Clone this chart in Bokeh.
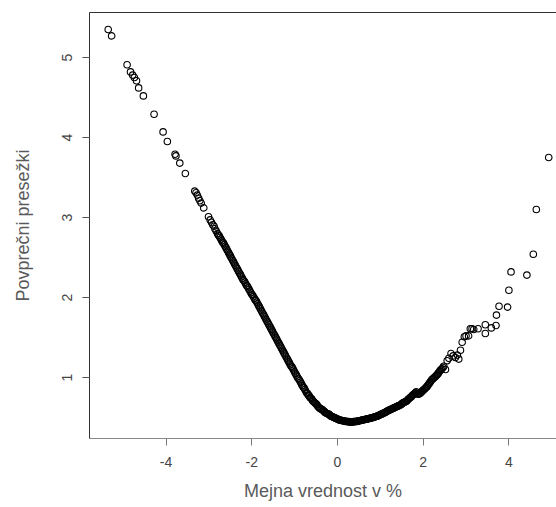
from bokeh.plotting import figure
from bokeh.models import Range1d, LinearAxis, FixedTicker, ColumnDataSource
from bokeh.embed import file_html
from bokeh.resources import INLINE

# Sparse left tail: threshold (Mejna vrednost v %) and mean excess (Povprečni presežki)
left_threshold = [
    -5.35, -5.27, -4.91, -4.83, -4.78, -4.74, -4.69, -4.64, -4.53, -4.28,
    -4.07, -3.97, -3.79, -3.77, -3.68, -3.55, -3.33, -3.30, -3.27, -3.24,
    -3.21, -3.18, -3.12, -3.01, -2.97, -2.94, -2.91, -2.88, -2.86, -2.83,
]
left_excess = [
    5.35, 5.27, 4.91, 4.82, 4.78, 4.75, 4.71, 4.62, 4.52, 4.29,
    4.07, 3.95, 3.79, 3.77, 3.68, 3.55, 3.33, 3.31, 3.28, 3.24,
    3.21, 3.18, 3.12, 3.01, 2.97, 2.94, 2.91, 2.89, 2.86, 2.83,
]

# Dense middle band
mid_threshold = [
    -2.80, -2.78, -2.76, -2.74, -2.72, -2.70, -2.68, -2.66, -2.64, -2.62,
    -2.60, -2.58, -2.56, -2.54, -2.52, -2.50, -2.48, -2.46, -2.44, -2.42,
    -2.40, -2.38, -2.36, -2.34, -2.32, -2.30, -2.28, -2.26, -2.24, -2.22,
    -2.20, -2.18, -2.16, -2.14, -2.12, -2.10, -2.08, -2.06, -2.04, -2.02,
    -2.00, -1.98, -1.96, -1.94, -1.92, -1.90, -1.88, -1.86, -1.84, -1.82,
    -1.80, -1.78, -1.76, -1.74, -1.72, -1.70, -1.68, -1.66, -1.64, -1.62,
    -1.60, -1.58, -1.56, -1.54, -1.52, -1.50, -1.48, -1.46, -1.44, -1.42,
    -1.40, -1.38, -1.36, -1.34, -1.32, -1.30, -1.28, -1.26, -1.24, -1.22,
    -1.20, -1.18, -1.16, -1.14, -1.12, -1.10, -1.08, -1.06, -1.04, -1.02,
    -1.00, -0.98, -0.96, -0.94, -0.92, -0.90, -0.88, -0.86, -0.84, -0.82,
    -0.80, -0.78, -0.76, -0.74, -0.72, -0.70, -0.68, -0.66, -0.64, -0.62,
    -0.60, -0.58, -0.56, -0.54, -0.52, -0.50, -0.48, -0.46, -0.44, -0.42,
    -0.40, -0.38, -0.36, -0.34, -0.32, -0.30, -0.28, -0.26, -0.24, -0.22,
    -0.20, -0.18, -0.16, -0.14, -0.12, -0.10, -0.08, -0.06, -0.04, -0.02,
    0.00, 0.02, 0.04, 0.06, 0.08, 0.10, 0.12, 0.14, 0.16, 0.18,
    0.20, 0.22, 0.24, 0.26, 0.28, 0.30, 0.32, 0.34, 0.36, 0.38,
    0.40, 0.42, 0.44, 0.46, 0.48, 0.50, 0.52, 0.54, 0.56, 0.58,
    0.60, 0.62, 0.64, 0.66, 0.68, 0.70, 0.72, 0.74, 0.76, 0.78,
    0.80, 0.82, 0.84, 0.86, 0.88, 0.90, 0.92, 0.94, 0.96, 0.98,
    1.00, 1.02, 1.04, 1.06, 1.08, 1.10, 1.12, 1.14, 1.16, 1.18,
    1.20, 1.22, 1.24, 1.26, 1.28, 1.30, 1.32, 1.34, 1.36, 1.38,
    1.40, 1.42, 1.44, 1.46, 1.48, 1.50, 1.52, 1.54, 1.56, 1.58,
    1.60, 1.62, 1.64, 1.66, 1.68, 1.70, 1.72, 1.74, 1.76, 1.78,
    1.80, 1.82, 1.84, 1.86, 1.88, 1.90, 1.92, 1.94, 1.96, 1.98,
    2.00, 2.02, 2.04, 2.06, 2.08, 2.10, 2.12, 2.14, 2.16, 2.18,
    2.20, 2.22, 2.24, 2.26, 2.28, 2.30, 2.32, 2.34, 2.36, 2.38,
    2.40, 2.42, 2.44, 2.46, 2.48,
]
mid_excess = [
    2.80, 2.78, 2.77, 2.75, 2.73, 2.71, 2.69, 2.68, 2.66, 2.64,
    2.62, 2.60, 2.58, 2.56, 2.54, 2.52, 2.50, 2.48, 2.46, 2.44,
    2.42, 2.40, 2.38, 2.36, 2.34, 2.32, 2.30, 2.28, 2.26, 2.24,
    2.22, 2.21, 2.19, 2.17, 2.15, 2.14, 2.12, 2.10, 2.08, 2.06,
    2.04, 2.03, 2.01, 1.99, 1.97, 1.96, 1.94, 1.92, 1.90, 1.88,
    1.86, 1.84, 1.82, 1.80, 1.78, 1.76, 1.74, 1.72, 1.70, 1.68,
    1.66, 1.64, 1.62, 1.60, 1.58, 1.56, 1.54, 1.52, 1.50, 1.48,
    1.46, 1.44, 1.42, 1.40, 1.38, 1.36, 1.34, 1.32, 1.30, 1.28,
    1.26, 1.24, 1.22, 1.20, 1.18, 1.16, 1.14, 1.13, 1.11, 1.09,
    1.07, 1.05, 1.03, 1.01, 0.99, 0.98, 0.96, 0.94, 0.92, 0.90,
    0.88, 0.87, 0.85, 0.83, 0.81, 0.80, 0.78, 0.77, 0.75, 0.74,
    0.73, 0.71, 0.70, 0.69, 0.68, 0.67, 0.66, 0.64, 0.63, 0.62,
    0.61, 0.605, 0.60, 0.59, 0.58, 0.57, 0.56, 0.555, 0.55, 0.545,
    0.54, 0.53, 0.52, 0.515, 0.51, 0.505, 0.50, 0.495, 0.49, 0.485,
    0.48, 0.475, 0.47, 0.468, 0.465, 0.462, 0.46, 0.458, 0.455, 0.452,
    0.45, 0.45, 0.45, 0.448, 0.445, 0.445, 0.445, 0.445, 0.445, 0.448,
    0.45, 0.45, 0.45, 0.452, 0.455, 0.458, 0.46, 0.462, 0.465, 0.468,
    0.47, 0.472, 0.475, 0.478, 0.48, 0.482, 0.485, 0.488, 0.49, 0.492,
    0.495, 0.498, 0.50, 0.505, 0.51, 0.512, 0.515, 0.52, 0.525, 0.53,
    0.535, 0.54, 0.545, 0.55, 0.555, 0.56, 0.565, 0.572, 0.58, 0.585,
    0.59, 0.595, 0.60, 0.605, 0.61, 0.615, 0.62, 0.625, 0.63, 0.635,
    0.64, 0.645, 0.65, 0.655, 0.66, 0.67, 0.68, 0.685, 0.69, 0.695,
    0.70, 0.71, 0.72, 0.73, 0.74, 0.75, 0.76, 0.77, 0.78, 0.79,
    0.80, 0.81, 0.82, 0.80, 0.79, 0.795, 0.80, 0.81, 0.82, 0.83,
    0.84, 0.85, 0.86, 0.87, 0.88, 0.895, 0.91, 0.925, 0.94, 0.955,
    0.97, 0.98, 0.99, 1.00, 1.01, 1.02, 1.03, 1.045, 1.06, 1.075,
    1.09, 1.10, 1.11, 1.125, 1.14,
]

# Sparse right tail
right_threshold = [
    2.52, 2.56, 2.60, 2.65, 2.70, 2.75, 2.80, 2.83, 2.87, 2.91,
    2.96, 3.00, 3.06, 3.10, 3.14, 3.18, 3.28, 3.45, 3.45, 3.59,
    3.70, 3.71, 3.77, 3.97, 4.00, 4.05, 4.42, 4.57, 4.64, 4.93,
]
right_excess = [
    1.10, 1.21, 1.24, 1.30, 1.27, 1.25, 1.28, 1.23, 1.34, 1.44,
    1.51, 1.52, 1.52, 1.61, 1.61, 1.60, 1.61, 1.55, 1.66, 1.62,
    1.65, 1.78, 1.89, 1.88, 2.09, 2.32, 2.28, 2.54, 3.10, 3.75,
]

x_ticks = [-4, -2, 0, 2, 4]
x_tick_labels = ["-4", "-2", "0", "2", "4"]
y_ticks = [1, 2, 3, 4, 5]

src = ColumnDataSource(dict(
    x=left_threshold + mid_threshold + right_threshold,
    y=left_excess + mid_excess + right_excess,
))

p = figure(
    width=556, height=507,
    output_backend="svg", toolbar_location=None,
    x_range=Range1d(-5.787, 5.111), y_range=Range1d(0.2375, 5.5625),
    min_border_left=89, min_border_right=0, min_border_top=12, min_border_bottom=69,
)
p.grid.visible = False
p.outline_line_color = None
p.background_fill_color = "white"
p.border_fill_color = "white"

p.scatter("x", "y", source=src, marker="circle", size=6.5,
          fill_color=None, line_color="black", line_width=1.1)

FONT = "Liberation Sans"

xa = p.xaxis[0]
xa.ticker = FixedTicker(ticks=x_ticks)
xa.major_label_overrides = dict(zip(x_ticks, x_tick_labels))
xa.axis_label = "Mejna vrednost v %"
xa.axis_line_color = "#888888"
xa.major_tick_line_color = "#777777"
xa.major_tick_out = 7
xa.major_tick_in = 0
xa.minor_tick_line_color = None
xa.major_label_text_font = FONT
xa.major_label_text_font_size = "14px"
xa.major_label_text_color = "#444444"
xa.major_label_standoff = 11
xa.axis_label_text_font = FONT
xa.axis_label_text_font_size = "18px"
xa.axis_label_text_font_style = "normal"
xa.axis_label_text_color = "#5a5a5a"
xa.axis_label_standoff = 11

ya = p.yaxis[0]
ya.ticker = FixedTicker(ticks=y_ticks)
ya.axis_label = "Povprečni presežki"
ya.axis_line_color = "#333333"
ya.major_tick_line_color = "#555555"
ya.major_tick_out = 7
ya.major_tick_in = 0
ya.minor_tick_line_color = None
ya.major_label_orientation = "vertical"
ya.major_label_text_font = FONT
ya.major_label_text_font_size = "14px"
ya.major_label_text_color = "#444444"
ya.major_label_standoff = 11
ya.axis_label_text_font = FONT
ya.axis_label_text_font_size = "18px"
ya.axis_label_text_font_style = "normal"
ya.axis_label_text_color = "#5a5a5a"
ya.axis_label_standoff = 26

top = LinearAxis(ticker=FixedTicker(ticks=[]))
top.axis_line_color = "#333333"
top.major_tick_line_color = None
top.minor_tick_line_color = None
top.major_tick_out = 0
top.major_label_text_font_size = "0px"
top.major_label_standoff = 0
p.add_layout(top, "above")

open("out.html", "w").write(file_html(p, INLINE))
